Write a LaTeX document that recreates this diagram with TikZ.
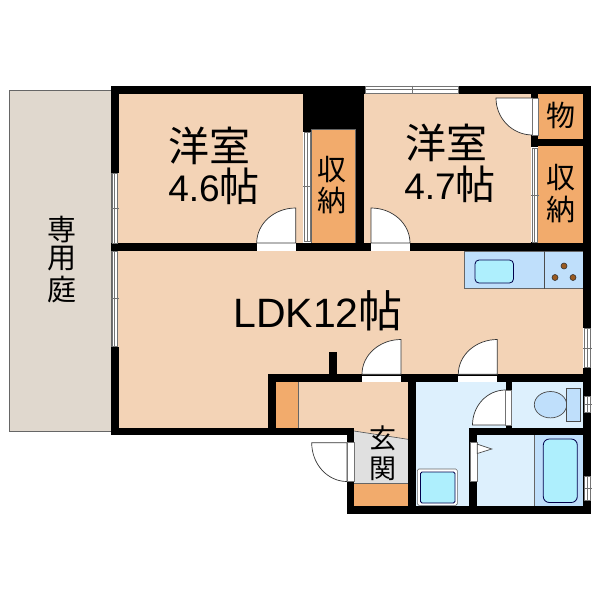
\documentclass[tikz,border=0pt]{standalone}
\usepackage{fontspec}
\setmainfont{Liberation Sans}
\newfontfamily\jp{Noto Sans CJK JP}
\tikzset{
  wall/.style={fill=black},
  room/.style={fill=roomc},
  wet/.style={fill=wetc},
  glass/.style={fill=white,draw=black!55,line width=.7pt},
  rail/.style={draw=black!55,line width=.6pt},
  leaf/.style={fill=white,draw=black!80,line width=.7pt},
  fixture/.style={draw=black!70!blue,line width=.8pt},
  label/.style={inner sep=0pt,text=black,align=center}
}
\definecolor{roomc}{HTML}{F3D3B6}
\definecolor{closetc}{HTML}{F2AB6C}
\definecolor{wetc}{HTML}{DDF0FD}
\definecolor{gardenc}{HTML}{E0D8CE}
\definecolor{bluec}{HTML}{BFDFFB}
\definecolor{aquac}{HTML}{AEEFFD}
\definecolor{genkanc}{HTML}{E0E0E0}
\definecolor{burnerc}{HTML}{9A5A20}
\newcommand{\vwin}[4]{% x1 x2 y1 y2
  \draw[glass] (#1,#3) rectangle (#2,#4);
  \draw[rail] ({(#1+#2)/2},#3) -- ({(#1+#2)/2},#4);
  \draw[rail] (#1-1,{(#3+#4)/2}) -- (#2+1,{(#3+#4)/2});}
\newcommand{\hwin}[4]{% x1 x2 y1 y2
  \draw[glass] (#1,#3) rectangle (#2,#4);
  \draw[rail] (#1,{(#3+#4)/2}) -- (#2,{(#3+#4)/2});
  \draw[rail] ({(#1+#2)/2},#3-1) -- ({(#1+#2)/2},#4+1);}
\begin{document}
\begin{tikzpicture}[x=1pt,y=-1pt]
\useasboundingbox (0,0) rectangle (600,600);
\fill[white] (0,0) rectangle (600,600);
% garden
\draw[fill=gardenc,draw=black!60,line width=.8pt] (9.5,90) rectangle (111,431);
% rooms
\fill[room] (118,93) rectangle (303,243);
\fill[room] (364,93) rectangle (531,243);
\fill[room] (118,251) rectangle (583,374.5);
\fill[room] (118,374) rectangle (268,428);
\fill[room] (275,382) -- (408,382) -- (408,439.3) -- (354,431) -- (354,428) -- (275,428) -- cycle;
% genkan
\fill[genkanc] (354,431) -- (408,439.3) -- (408,483.5) -- (354,483.5) -- cycle;
\draw[black!70,line width=.6pt] (354,431) -- (408,439.3);
\fill[closetc] (354,483.5) rectangle (408,506);
\draw[black!60,line width=.5pt] (354,483.5) -- (408,483.5);
\fill[closetc] (275.7,382) rectangle (298,428);
\draw[black!60,line width=.5pt] (298.2,382) -- (298.2,428);
% closets
\fill[closetc] (311,129) rectangle (355.7,243);
\draw[black!60,line width=.5pt] (311,129) rectangle (355.7,243);
\fill[closetc] (538,93) rectangle (583.3,138.5);
\fill[closetc] (538,146) rectangle (583.3,243);
% wet rooms
\fill[wetc] (416,382) rectangle (505.5,428);
\fill[wetc] (416,428) rectangle (469.5,506);
\fill[wetc] (511.7,382) rectangle (583,428);
\fill[wetc] (477,435) rectangle (534,506);
\fill[bluec] (534,435) rectangle (583,506);
\draw[black!60,line width=.6pt] (534,435) -- (534,506);
% kitchen
\draw[fill=bluec,draw=black!60,line width=.7pt] (464.5,251) rectangle (583,288.7);
\draw[black!70,line width=.7pt] (544.5,251) -- (544.5,288.7);
\draw[fill=aquac,fixture,rounded corners=4pt] (475,260) rectangle (513.5,283);
\foreach \bx/\by in {564/266,555/277.5,573/277.5}{
  \draw[fill=burnerc,draw=black!80,line width=.6pt] (\bx,\by) circle (3);}
% walls
\fill[wall] (111,86) rectangle (591,93.5);      % top
\fill[wall] (111,86) rectangle (118.5,173);     % left upper
\fill[wall] (111,243) rectangle (118.5,251);
\fill[wall] (111,346.5) rectangle (118.5,435.3);% left lower
\fill[wall] (111,243) rectangle (257,251);      % mid left
\fill[wall] (296,243) rectangle (371,251);
\fill[wall] (410,243) rectangle (591,251);
\fill[wall] (303,86) rectangle (364,129.3);     % black block
\fill[wall] (355.7,129) rectangle (364,251);
\fill[wall] (303,129) rectangle (311,132);
\fill[wall] (531,86) rectangle (538,98);
\fill[wall] (531,135) rectangle (538,147);
\fill[wall] (531,242) rectangle (538,251);
\fill[wall] (538,138.5) rectangle (591,146);
\fill[wall] (583.3,86) rectangle (591,328);     % right upper
\fill[wall] (583.3,367.7) rectangle (591,513.7);% right lower
\fill[wall] (268,374.3) rectangle (591,382.3);  % mid
\fill[wall] (329,351.7) rectangle (337.3,374.5);% stub
\fill[wall] (268,374.3) rectangle (275.7,435.3);
\fill[wall] (111,427.7) rectangle (354.3,435.3);% bottom left
\fill[wall] (408,382) rectangle (416,513.7);    % entry/wash
\fill[wall] (347,427.7) rectangle (354.3,442.7);
\fill[wall] (347,481.5) rectangle (354.3,513.7);
\fill[wall] (347,506) rectangle (591,513.7);    % bottom
\fill[wall] (469.3,427.7) rectangle (591,435.3);% bath top
\fill[wall] (469.3,427.7) rectangle (477.3,513.7);
\fill[wall] (505.5,382) rectangle (511.7,435);
% windows
\vwin{112}{117.5}{173.3}{243}
\vwin{112}{117.5}{251}{346.5}
\vwin{304}{310}{132}{241.5}
\vwin{532}{537.5}{148}{242}
\hwin{365.7}{458.5}{86.5}{93}
\vwin{584}{590.5}{328}{367.7}
\vwin{584.5}{590.5}{396.7}{412.7}
\vwin{584.5}{590.5}{476}{500}
% door leaves
\draw[leaf] (295.7,243) -- (295.7,208) arc[start angle=-90,end angle=-180,x radius=39,y radius=35] -- cycle;
\draw[leaf] (371,243) -- (371,208) arc[start angle=-90,end angle=0,x radius=39,y radius=35] -- cycle;
\draw[leaf] (496,98) arc[start angle=180,end angle=90,x radius=36.5,y radius=37] -- (532.5,98) -- cycle;
\draw[leaf] (401,374.3) -- (401,339.5) arc[start angle=-90,end angle=-180,x radius=39,y radius=34.8] -- cycle;
\draw[leaf] (497.3,374.3) -- (497.3,339.5) arc[start angle=-90,end angle=-180,x radius=39,y radius=34.8] -- cycle;
\draw[leaf] (505.5,425) -- (505.5,390) arc[start angle=-90,end angle=-180,x radius=33,y radius=35] -- cycle;
\draw[leaf] (347,442.7) -- (311.7,442.7) arc[start angle=180,end angle=90,x radius=35.3,y radius=38.8] -- cycle;
% door openings in walls
\fill[white] (257,244) rectangle (295.7,250.5);
\fill[white] (371,244) rectangle (410,250.5);
\fill[white] (362,375.7) rectangle (401,381.7);
\fill[white] (458.3,375.7) rectangle (497.3,381.7);
\draw[glass] (505.5,390) rectangle (511.7,425);
\draw[glass] (532,98) rectangle (538,135);
\draw[glass] (347.5,442.7) rectangle (354,481.5);
\draw[glass] (470,442.5) rectangle (477,481);
% wash basin, washer, toilet
\draw[fill=white,draw=black!60,line width=.6pt,rounded corners=1.5pt] (417.3,469) rectangle (457.3,505.3);
\draw[fill=aquac,fixture,rounded corners=1.5pt] (420.5,472) rectangle (455,503);
\draw[fill=white,draw=black!70,line width=.7pt] (477.3,444.2) -- (491.7,449) -- (477.3,453.5) -- cycle;
\draw[fill=bluec,draw=black!70,line width=.7pt] (550.5,404.7) ellipse [x radius=16.2,y radius=13.2];
\draw[fill=bluec,draw=black!70,line width=.7pt] (566.7,388.3) rectangle (580.7,421.3);
% bathtub
\draw[fill=aquac,fixture,rounded corners=6pt] (543.3,439) rectangle (577.3,502.5);
% labels
\node[label,font=\jp\fontsize{41}{41}\selectfont] (r1a) at (209,146) {洋室};
\node[label,font=\fontsize{37}{37}\selectfont] (r1b) at (214,186) {4.6{\jp\fontsize{40}{40}\selectfont 帖}};
\node[label,font=\jp\fontsize{41}{41}\selectfont] (r2a) at (446,142.5) {洋室};
\node[label,font=\fontsize{37}{37}\selectfont] (r2b) at (450,184) {4.7{\jp\fontsize{40}{40}\selectfont 帖}};
\node[label,font=\fontsize{41}{41}\selectfont] (ldk) at (318,310.5) {LDK12{\jp\fontsize{44}{44}\selectfont 帖}};
\node[label,font=\jp\fontsize{29}{29}\selectfont] (c1a) at (331.5,170) {収};
\node[label,font=\jp\fontsize{29}{29}\selectfont] (c1b) at (331.5,200.5) {納};
\node[label,font=\jp\fontsize{29}{29}\selectfont] (c2a) at (560.5,178) {収};
\node[label,font=\jp\fontsize{29}{29}\selectfont] (c2b) at (560.5,209) {納};
\node[label,font=\jp\fontsize{29}{29}\selectfont] (c3) at (560.5,115) {物};
\node[label,font=\jp\fontsize{29}{29}\selectfont] (g1) at (62,230) {専};
\node[label,font=\jp\fontsize{29}{29}\selectfont] (g2) at (62,259) {用};
\node[label,font=\jp\fontsize{29}{29}\selectfont] (g3) at (62,290) {庭};
\node[label,font=\jp\fontsize{27}{27}\selectfont] (e1) at (382.5,438) {玄};
\node[label,font=\jp\fontsize{27}{27}\selectfont] (e2) at (382.5,468.5) {関};
\end{tikzpicture}
\end{document}
